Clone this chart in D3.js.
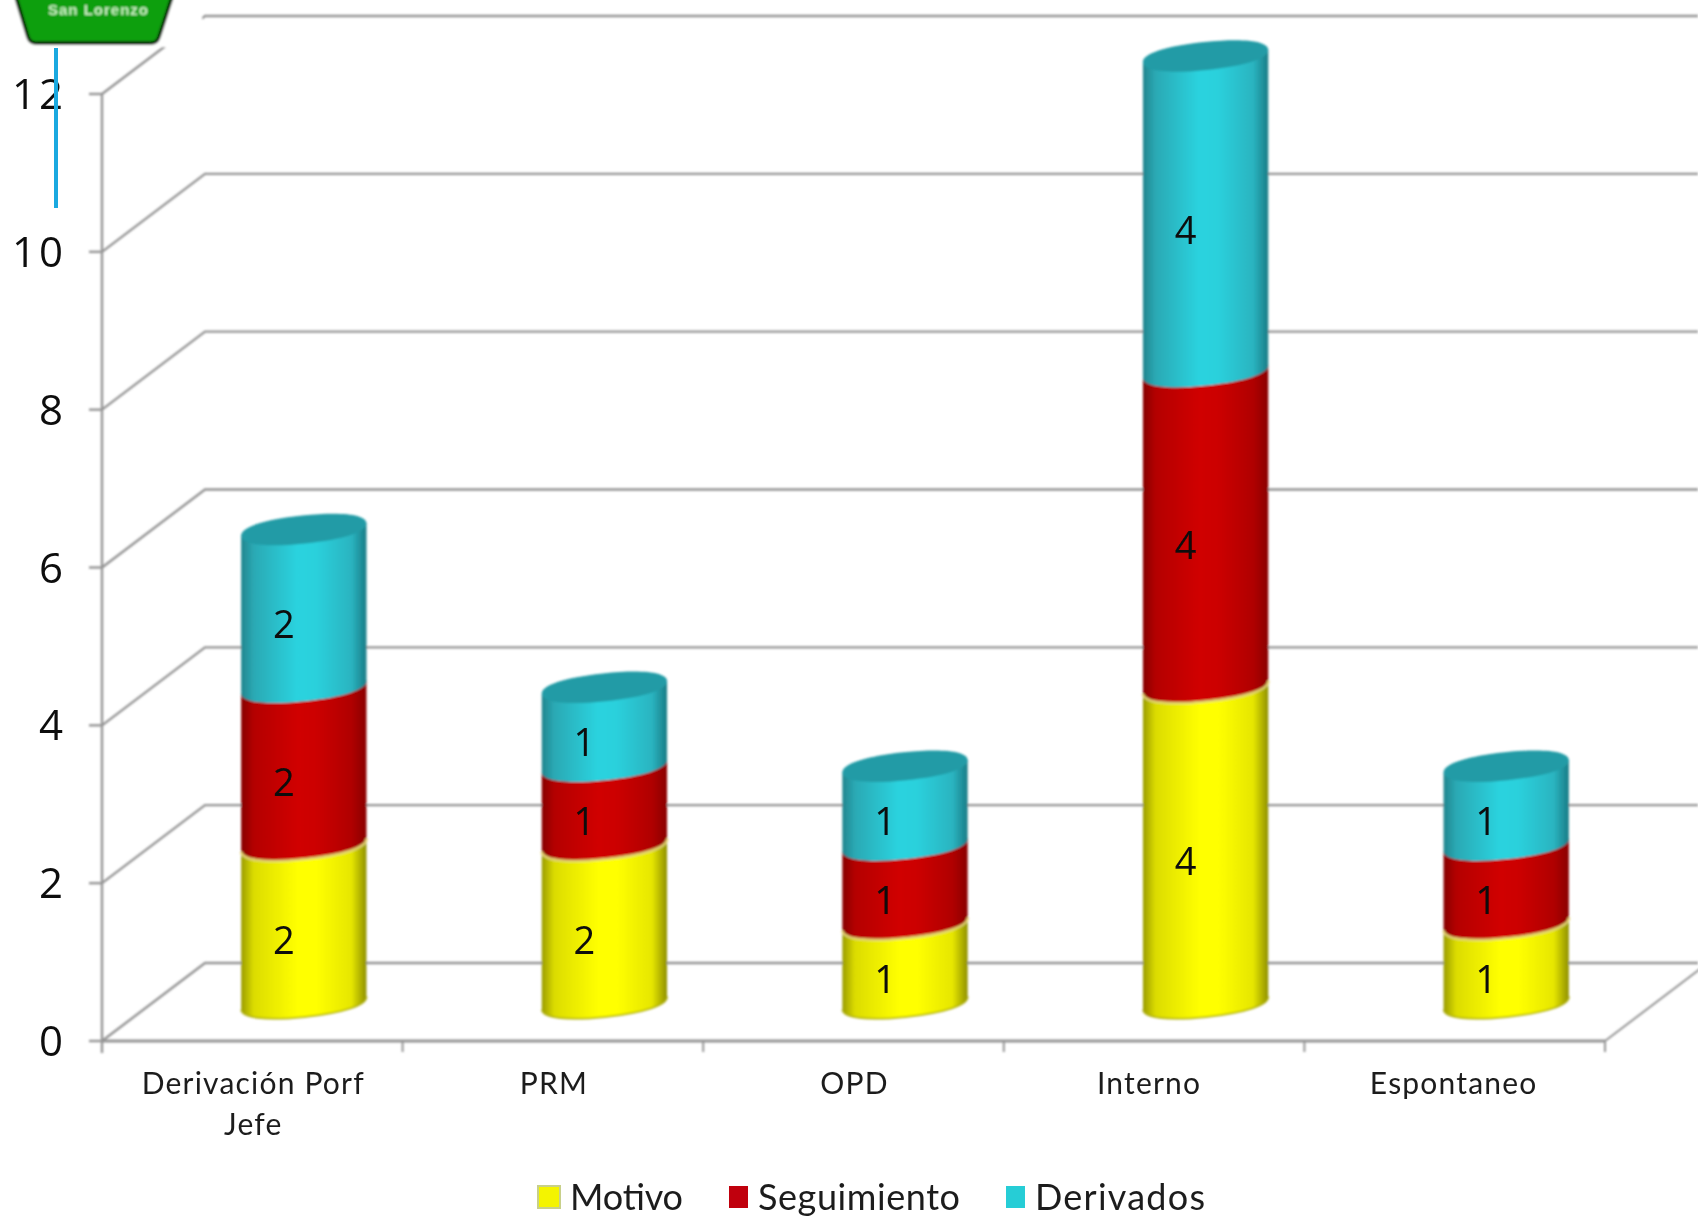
<!DOCTYPE html>
<html><head><meta charset="utf-8">
<script src="https://cdn.jsdelivr.net/npm/d3@7"></script>
<style>html,body{margin:0;padding:0;background:#fff}svg{display:block}</style>
</head><body><div id="chart"></div>
<script>
const categories = ["Derivación Porf|Jefe","PRM","OPD","Interno","Espontaneo"];
const labelShift = [1,1,1,-5,-1];
const motivo = [2,2,1,4,1];
const seguimiento = [2,1,1,4,1];
const derivados = [2,1,1,4,1];
const seriesNames = ["Motivo","Seguimiento","Derivados"];
const yTicks = [0,2,4,6,8,10,12];
const palette = {
  Motivo:{stops:["#9a9c00","#dcdc00","#ffff00","#ffff00","#e6e600","#8f9000"],swatch:"#f4f400"},
  Seguimiento:{stops:["#860000","#b40000","#d00000","#cc0000","#b00000","#8a0000"],swatch:"#c00010"},
  Derivados:{stops:["#22858e","#2aa9b4","#2bd3df","#2bd0dc","#2ab4c0","#1a7c86"],swatch:"#28cdd6",top:"#229ba6"}
};
const stopAt=[0,0.1,0.45,0.6,0.88,1];
const W=1698,H=1217;
const depth={x:103,y:78};
const x=d3.scaleBand().domain(categories).range([102,1605]);
const y=d3.scaleLinear().domain([0,12]).range([1041,94]);
const svg=d3.select("#chart").append("svg").attr("width",W).attr("height",H).attr("viewBox",`0 0 ${W} ${H}`);
svg.style("font-family","Lato, 'Open Sans', sans-serif");
const defs=svg.append("defs");
defs.append("filter").attr("id","soft").append("feGaussianBlur").attr("stdDeviation",0.8);
defs.append("filter").attr("id","softText").append("feGaussianBlur").attr("stdDeviation",0.4);
seriesNames.forEach(n=>{
  const g=defs.append("linearGradient").attr("id","g"+n).attr("x1",0).attr("x2",1).attr("y1",0).attr("y2",0);
  palette[n].stops.forEach((c,i)=>g.append("stop").attr("offset",stopAt[i]).attr("stop-color",c));
});
const root=svg.append("g").attr("filter","url(#soft)");
const grid=root.append("g").attr("stroke","#949494").attr("fill","none");
yTicks.forEach(v=>{
  grid.append("path").attr("stroke-width",2.4).attr("d",`M${102},${y(v)}L${102+depth.x},${y(v)-depth.y}L${W},${y(v)-depth.y}`);
});
grid.append("path").attr("stroke-width",2).attr("d",`M1605,${y(0)}L${1605+depth.x},${y(0)-depth.y}`);
grid.append("line").attr("stroke-width",2.4).attr("x1",102).attr("x2",102).attr("y1",y(12)).attr("y2",y(0)+12);
grid.append("line").attr("stroke-width",3).attr("x1",102).attr("x2",1605).attr("y1",y(0)).attr("y2",y(0));
yTicks.forEach(v=>grid.append("line").attr("stroke-width",2.4).attr("x1",89).attr("x2",102).attr("y1",y(v)).attr("y2",y(v)));
categories.forEach(c=>{const xx=x(c)+x.bandwidth();grid.append("line").attr("stroke-width",2).attr("x1",xx).attr("x2",xx).attr("y1",y(0)).attr("y2",y(0)+11);});
// cylinders
const rx=63,ry=14,theta=-6*Math.PI/180,k=0.62;
const P=(cx,cy,a,b)=>[cx+a*Math.cos(theta)-b*Math.sin(theta),cy+a*Math.sin(theta)+b*Math.cos(theta)];
const frontArc=(cx,cy)=>{
  const pt=(a,b)=>P(cx,cy,a,b).join(",");
  return `C${pt(-rx,k*ry)} ${pt(-k*rx,ry)} ${pt(0,ry)}C${pt(k*rx,ry)} ${pt(rx,k*ry)} ${pt(rx,0)}`;
};
const backArc=(cx,cy)=>{
  const pt=(a,b)=>P(cx,cy,a,b).join(",");
  return `C${pt(rx,-k*ry)} ${pt(k*rx,-ry)} ${pt(0,-ry)}C${pt(-k*rx,-ry)} ${pt(-rx,-k*ry)} ${pt(-rx,0)}`;
};
const barCx=c=>x(c)+x.bandwidth()/2+depth.x/2;
const barY=v=>y(v)-38;
const bars=root.append("g");
categories.forEach((c,i)=>{
  const cx=barCx(c);
  let base=0;
  [motivo,seguimiento,derivados].forEach((arr,s)=>{
    const n=seriesNames[s],v=arr[i];
    const y0=barY(base),y1=barY(base+v);
    const L0=P(cx,y0,-rx,0),R1=P(cx,y1,rx,0),L1=P(cx,y1,-rx,0);
    bars.append("path").attr("fill",`url(#g${n})`)
      .attr("d",`M${L1}L${L0}${frontArc(cx,y0)}L${R1}Z`);
    if(s===0){
      bars.append("path").attr("fill","none").attr("stroke","#a6a800").attr("stroke-width",2).attr("stroke-opacity",0.7)
        .attr("d",`M${L0}${frontArc(cx,y0)}`);
    }
    if(s===1){
      bars.append("path").attr("fill","none").attr("stroke","#e0d070").attr("stroke-width",2.5)
        .attr("d",`M${L0}${frontArc(cx,y0)}`);
    }
    if(s===2){
      bars.append("path").attr("fill",palette[n].top)
        .attr("d",`M${L1}${frontArc(cx,y1)}${backArc(cx,y1)}Z`);
    }
    base+=v;
  });
});
root.append("rect").attr("x",0).attr("y",0).attr("width",202).attr("height",47).attr("fill","#fff");
root.append("path").attr("fill","#0f9f0f").attr("stroke","#062806").attr("stroke-width",3.5)
  .attr("d","M15,-6L173,-6L159,37Q157,43 151,43L36,43Q30,43 28,37Z");
root.append("text").attr("x",98).attr("y",15).attr("text-anchor","middle").attr("font-size",15).attr("font-weight",700)
  .attr("textLength",100).attr("font-family","'Liberation Sans',sans-serif").attr("fill","#c8f0c0").text("San Lorenzo");
// texts
const labels=svg.append("g").attr("filter","url(#softText)");
labels.append("g").selectAll("text").data(yTicks).join("text")
  .attr("x",66).attr("y",d=>y(d)).attr("dy","0.36em").attr("text-anchor","end")
  .attr("font-family","'Open Sans',sans-serif").attr("letter-spacing",3)
  .attr("font-size",42).attr("fill","#111").text(d=>d);
categories.forEach((c,ci)=>{
  const t=labels.append("text").attr("text-anchor","middle").attr("font-size",30).attr("fill","#1c1c1c");
  c.split("|").forEach((line,i)=>t.append("tspan").attr("x",x(c)+x.bandwidth()/2+labelShift[ci]).attr("y",1094+i*41).attr("letter-spacing",1.2).text(line));
});
categories.forEach((c,i)=>{
  let base=0;
  [motivo,seguimiento,derivados].forEach(arr=>{
    const v=arr[i];
    labels.append("text").attr("x",barCx(c)-20).attr("y",barY(base+v/2)+16).attr("dy","0.36em")
      .attr("font-family","'Open Sans',sans-serif")
      .attr("text-anchor","middle").attr("font-size",38).attr("fill","#0a0a0a").text(v);
    base+=v;
  });
});
const legendX=[538,729,1006],legendTextX=[570,758,1035],legendLen=[113,202,170];
seriesNames.forEach((n,i)=>{
  labels.append("rect").attr("x",legendX[i]).attr("y",1186).attr("width",i==0?22:19).attr("height",22)
    .attr("fill",palette[n].swatch).attr("stroke",i==0?"#c8d08a":"none").attr("stroke-width",2);
  labels.append("text").attr("x",legendTextX[i]).attr("y",1209.5).attr("font-size",36).attr("textLength",legendLen[i]).attr("fill","#1c1c1c").text(n);
});
svg.append("rect").attr("x",54).attr("y",48).attr("width",4).attr("height",160).attr("fill","#1aa9e0");
</script></body></html>
